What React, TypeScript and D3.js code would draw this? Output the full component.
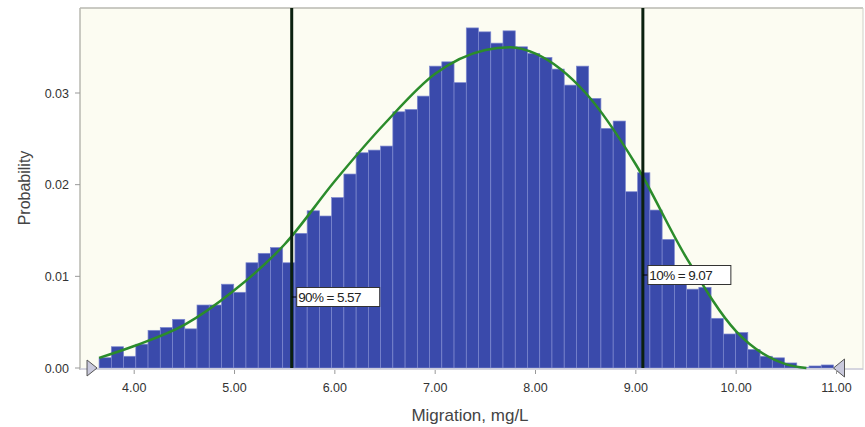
import React from 'react';
import * as d3 from 'd3';

// histogram: 60 bins from 3.65, width 0.122
const binStart = 3.65;
const binWidth = 0.122;
const probabilities = [
  0.00112, 0.00232, 0.00128, 0.0026, 0.00411, 0.00442, 0.00531, 0.00427, 0.00687, 0.00687,
  0.00914, 0.00826, 0.01148, 0.01251, 0.01314, 0.01148, 0.01469, 0.01715, 0.01658, 0.01859,
  0.02116, 0.02348, 0.02377, 0.02421, 0.02795, 0.02821, 0.02966, 0.03293, 0.0334, 0.03113,
  0.0371, 0.03667, 0.03544, 0.03678, 0.03504, 0.03432, 0.03388, 0.03261, 0.03086, 0.03293,
  0.02941, 0.02614, 0.02694, 0.01923, 0.0213, 0.01723, 0.01403, 0.0097, 0.0086, 0.0088,
  0.00542, 0.00371, 0.00387, 0.00202, 0.00128, 0.00111, 0.00055, 0.00008, 0.00022, 0.00033,
];

// fitted curve, read at a few points
const curveX = [3.65, 4.0, 4.5, 5.0, 5.5, 6.0, 6.5, 7.0, 7.5, 7.75, 8.0, 8.5, 9.0, 9.5, 10.0, 10.5, 10.7];
const curveY = [0.0011, 0.0024, 0.0047, 0.0085, 0.0135, 0.0204, 0.0267, 0.0321, 0.0347, 0.035, 0.0343, 0.03, 0.0222, 0.0121, 0.004, 0.0004, 0.0];

const xTicks = [4, 5, 6, 7, 8, 9, 10, 11];
const yTicks = [0, 0.01, 0.02, 0.03];

const markers = [
  { value: 5.57, label: '90% = 5.57', labelY: 297 },
  { value: 9.07, label: '10% = 9.07', labelY: 275 },
];

const W = 865;
const H = 427;
const plotLeft = 80;
const plotRight = 863;
const plotTop = 8;
const baseY = 368;

export default function App() {
  const x = d3.scaleLinear().domain([4, 11]).range([134.2, 836.5]);
  const y = d3.scaleLinear().domain([0, 0.03]).range([baseY, 93]);

  const line = d3
    .line<number>()
    .x((_, i) => x(curveX[i]))
    .y((d) => y(d))
    .curve(d3.curveMonotoneX);

  const font = 'Arial, "Liberation Sans", sans-serif';
  const lx = x(3.53);
  const rx = x(11.03);

  return (
    <svg
      width={W}
      height={H}
      style={{ position: 'absolute', left: 0, top: 0, background: '#fff' }}
      fontFamily={font}
    >
      <rect x={plotLeft} y={plotTop} width={plotRight - plotLeft} height={baseY - plotTop + 2} fill="#fcfcf2" />
      <line x1={plotLeft} x2={plotRight} y1={plotTop} y2={plotTop} stroke="#b8b8b0" strokeWidth={1.5} />
      <line x1={plotLeft} x2={plotLeft} y1={plotTop} y2={baseY + 2} stroke="#b8b8b0" strokeWidth={1.5} />
      <line x1={plotRight} x2={plotRight} y1={plotTop} y2={baseY + 2} stroke="#d0d0c8" strokeWidth={1} />

      {probabilities.map((p, i) => {
        const x0 = x(binStart + i * binWidth);
        const x1 = x(binStart + (i + 1) * binWidth);
        return (
          <rect
            key={i}
            x={x0}
            y={y(p)}
            width={x1 - x0}
            height={baseY - y(p)}
            fill="#3a4aab"
            stroke="#7d88cf"
            strokeWidth={0.7}
          />
        );
      })}

      <line x1={plotLeft} x2={plotRight} y1={baseY + 1} y2={baseY + 1} stroke="#c8c8d8" strokeWidth={1.5} />

      <path d={line(curveY) || ''} fill="none" stroke="#2b8c2b" strokeWidth={2.5} />

      {markers.map((m) => (
        <g key={m.label}>
          <line x1={x(m.value)} x2={x(m.value)} y1={plotTop} y2={baseY} stroke="#0b200f" strokeWidth={3} />
          <line x1={x(m.value)} x2={x(m.value) + 6} y1={m.labelY} y2={m.labelY} stroke="#000" strokeWidth={1} />
          <rect x={x(m.value) + 5} y={m.labelY - 9.5} width={83} height={19} fill="#fff" stroke="#333" strokeWidth={1} />
          <text x={x(m.value) + 6.5} y={m.labelY + 5} fontSize={13.5} fill="#222" letterSpacing={-0.6}>
            {m.label}
          </text>
        </g>
      ))}

      {/* range triangles */}
      <path d={`M${lx},${baseY - 8} L${lx + 10},${baseY} L${lx},${baseY + 8} Z`} fill="#c9c9dc" stroke="#555" strokeWidth={1} />
      <path d={`M${rx + 5},${baseY - 9} L${rx - 6},${baseY} L${rx + 5},${baseY + 9} Z`} fill="#c9c9dc" stroke="#555" strokeWidth={1} />

      {xTicks.map((t) => (
        <g key={t}>
          <line x1={x(t)} x2={x(t)} y1={baseY + 2} y2={baseY + 6} stroke="#999" />
          <text x={x(t)} y={392} textAnchor="middle" fontSize={12.5} fill="#333">
            {t.toFixed(2)}
          </text>
        </g>
      ))}

      {yTicks.map((t) => (
        <g key={t}>
          <line x1={plotLeft - 5} x2={plotLeft} y1={y(t)} y2={y(t)} stroke="#999" />
          <text x={69} y={y(t) + 4.5} textAnchor="end" fontSize={12.5} fill="#333">
            {t.toFixed(2)}
          </text>
        </g>
      ))}

      <text x={470} y={421} textAnchor="middle" fontSize={17} fill="#444">
        Migration, mg/L
      </text>
      <text transform="translate(30,188) rotate(-90)" textAnchor="middle" fontSize={16} fill="#444">
        Probability
      </text>
    </svg>
  );
}
